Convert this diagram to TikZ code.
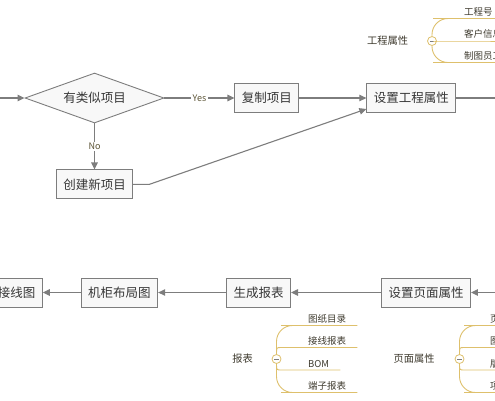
\documentclass[tikz,border=0pt]{standalone}
\usepackage{fontspec}
\setmainfont{Noto Sans CJK SC}
\usetikzlibrary{arrows.meta,positioning,shapes.geometric}
\definecolor{linegray}{RGB}{125,125,125}
\definecolor{boxfill}{RGB}{248,248,248}
\definecolor{mapgold}{RGB}{222,192,108}
\definecolor{ink}{RGB}{55,55,55}
\definecolor{olive}{RGB}{92,84,54}
\definecolor{topicink}{RGB}{62,58,46}

\begin{document}
\begin{tikzpicture}[x=1pt,y=-1pt,font=\fontsize{12.5}{15}\selectfont,text=ink,
 box/.style={draw=linegray,fill=boxfill,line width=0.9pt,inner xsep=7pt,minimum height=29pt},
 decide/.style={diamond,draw=linegray,fill=boxfill,line width=0.9pt,inner sep=0pt,aspect=2.8,minimum width=139pt,minimum height=50pt},
 flow/.style={draw=linegray,line width=1.1pt,-{Triangle[length=7pt,width=6.5pt]}},
 plain/.style={draw=linegray,line width=1.1pt},
 lab/.style={fill=white,inner sep=1.5pt,text=olive,font=\fontsize{9}{11}\selectfont},
 topic/.style={text=topicink,font=\fontsize{10.25}{12}\selectfont},
 knob/.style={circle,draw=mapgold,fill=white,line width=0.8pt,minimum size=9pt,inner sep=0pt,
  path picture={\draw[linegray,line width=0.8pt] ([xshift=-2.2pt]path picture bounding box.center) -- ([xshift=2.2pt]path picture bounding box.center);}},
 leaf/.style={anchor=south west,inner xsep=#1,inner ysep=2pt,text=topicink,font=\fontsize{9.5}{11}\selectfont},
 branch/.style={draw=mapgold,line width=0.9pt,rounded corners=16pt}]
\useasboundingbox (0,0) rectangle (495,400);
\clip (0,0) rectangle (495,400);
% project row
\coordinate (in) at (-10,98);
\node[decide] (sim) at (94.5,98) {有类似项目};
\node[box,right=70pt of sim] (copy) {复制项目};
\node[box,right=67pt of copy] (setproj) {设置工程属性};
\node[box,below=46pt of sim] (newproj) {创建新项目};
\coordinate (out) at (505,98);
\draw[flow] (in) -- (sim);
\draw[flow] (sim) -- node[lab] {Yes} (copy);
\draw[flow] (copy) -- (setproj);
\draw[flow] (sim) -- node[lab] {No} (newproj);
\draw[flow] (newproj.east) -- ++(16pt,0) -- ([yshift=-11pt]setproj.west);
\draw[plain] (setproj) -- (out);
% drawing row
\coordinate (back) at (505,292.5);
\node[box] (setpage) at (426,292.5) {设置页面属性};
\node[box,left=90pt of setpage] (report) {生成报表};
\node[box,left=68pt of report] (cabinet) {机柜布局图};
\node[box,left=38pt of cabinet] (wiring) {接线图};
\draw[flow] (back) -- (setpage);
\draw[flow] (setpage) -- (report);
\draw[flow] (report) -- (cabinet);
\draw[flow] (cabinet) -- (wiring);
% project attributes
\node[topic] (projattr) at (387.5,41) {工程属性};
\node[knob] (projknob) at (432,41) {};
\node[leaf=15pt] (pnum) at (449,18.5) {工程号};
\node[leaf=15pt] (pcust) at (449,41) {客户信息};
\node[leaf=15pt] (pdraw) at (449,62.5) {制图员工号};
\draw[branch] (projknob) |- (pnum.south west) -- (pnum.south east);
\draw[branch] (projknob) -- (pcust.south west) -- (pcust.south east);
\draw[branch] (projknob) |- (pdraw.south west) -- (pdraw.south east);
% reports
\node[topic] (reports) at (242.5,359) {报表};
\node[knob] (repknob) at (276.5,359) {};
\node[leaf=11pt] (rlist) at (297,325.5) {图纸目录};
\node[leaf=11pt] (rwire) at (297,347.5) {接线报表};
\node[leaf=11pt] (rbom) at (297,370) {BOM};
\node[leaf=11pt] (rterm) at (297,392.5) {端子报表};
\draw[branch] (repknob) |- (rlist.south west) -- (rlist.south east);
\draw[branch] (repknob) .. controls (repknob.center |- rwire.south west) .. (rwire.south west) -- (rwire.south east);
\draw[branch] (repknob) .. controls (repknob.center |- rbom.south west) .. (rbom.south west) -- (rbom.south east);
\draw[branch] (repknob) |- (rterm.south west) -- (rterm.south east);
% page attributes
\node[topic] (pageattr) at (414,359) {页面属性};
\node[knob] (pageknob) at (459.5,359) {};
\node[leaf=10pt] (psize) at (480,325.5) {页面大小};
\node[leaf=10pt] (pframe) at (480,347.5) {图框};
\node[leaf=10pt] (pver) at (480,370) {版本};
\node[leaf=10pt] (pitem) at (480,392.5) {项目名称};
\draw[branch] (pageknob) |- (psize.south west) -- (psize.south east);
\draw[branch] (pageknob) .. controls (pageknob.center |- pframe.south west) .. (pframe.south west) -- (pframe.south east);
\draw[branch] (pageknob) .. controls (pageknob.center |- pver.south west) .. (pver.south west) -- (pver.south east);
\draw[branch] (pageknob) |- (pitem.south west) -- (pitem.south east);
\end{tikzpicture}
\end{document}
